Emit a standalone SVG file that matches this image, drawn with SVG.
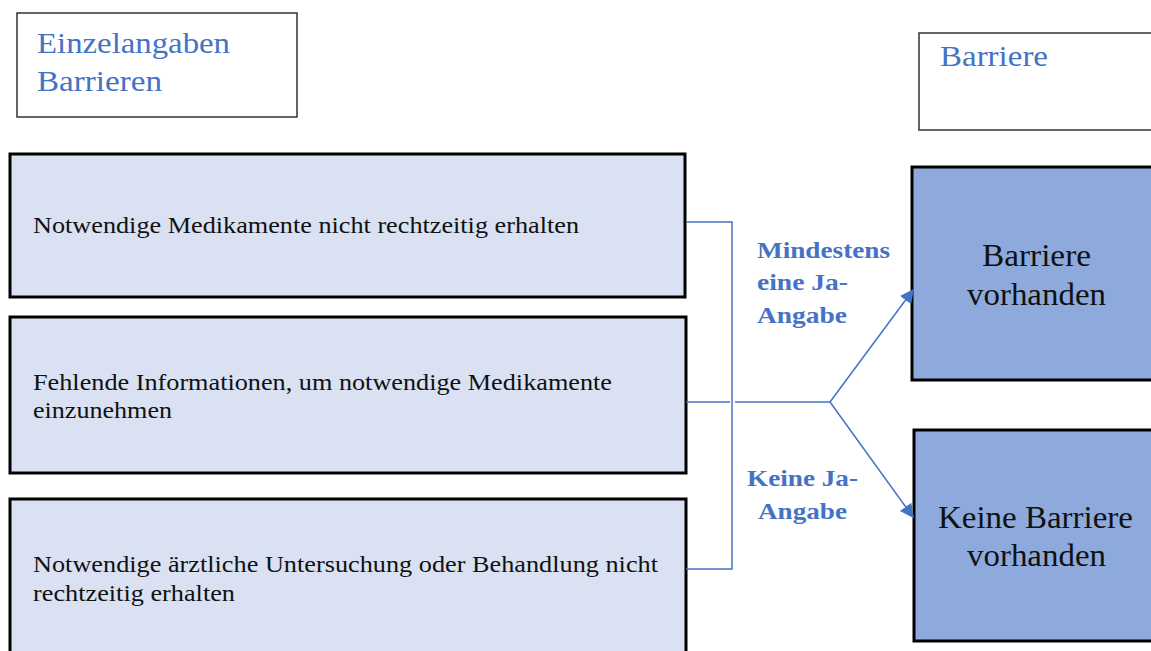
<svg xmlns="http://www.w3.org/2000/svg" width="1151" height="651" viewBox="0 0 1151 651">
  <style>
    .hdr { fill: #ffffff; stroke: #333333; stroke-width: 1.5; }
    .item { fill: #d9e1f3; stroke: #000000; stroke-width: 3; }
    .res { fill: #8eaadc; stroke: #000000; stroke-width: 3; }
    .hdrtxt { font-family: "Liberation Serif", "Times New Roman", serif; font-size: 30px; fill: #4472c4; }
    .itemtxt { font-family: "Liberation Serif", "Times New Roman", serif; font-size: 23px; fill: #111111; }
    .restxt { font-family: "Liberation Serif", "Times New Roman", serif; font-size: 31px; fill: #111111; }
    .lbl { font-family: "Liberation Serif", "Times New Roman", serif; font-size: 24px; font-weight: bold; fill: #4472c4; }
    .conn { fill: none; stroke: #4472c4; stroke-width: 1.5; }
  </style>
  <defs>
    <marker id="arrow" viewBox="0 0 10 10" refX="9" refY="5" markerWidth="14" markerHeight="14" markerUnits="userSpaceOnUse" orient="auto">
      <path d="M0,0 L10,5 L0,10 Z" fill="#4472c4"/>
    </marker>
  </defs>
  <rect width="1151" height="651" fill="#ffffff"/>

  <g id="header-left">
    <rect class="hdr" x="17" y="13" width="280" height="104"/>
    <text class="hdrtxt" x="37" y="53" textLength="193" lengthAdjust="spacingAndGlyphs">Einzelangaben</text>
    <text class="hdrtxt" x="37" y="91" textLength="125" lengthAdjust="spacingAndGlyphs">Barrieren</text>
  </g>

  <g id="header-right">
    <rect class="hdr" x="919" y="33" width="240" height="97"/>
    <text class="hdrtxt" x="940" y="66" textLength="108" lengthAdjust="spacingAndGlyphs">Barriere</text>
  </g>

  <g id="item-medikamente">
    <rect class="item" x="10" y="154" width="675" height="143"/>
    <text class="itemtxt" x="33" y="233" textLength="546" lengthAdjust="spacingAndGlyphs">Notwendige Medikamente nicht rechtzeitig erhalten</text>
  </g>

  <g id="item-informationen">
    <rect class="item" x="10" y="317" width="676" height="156"/>
    <text class="itemtxt" x="33" y="390" textLength="579" lengthAdjust="spacingAndGlyphs">Fehlende Informationen, um notwendige Medikamente</text>
    <text class="itemtxt" x="33" y="418" textLength="139" lengthAdjust="spacingAndGlyphs">einzunehmen</text>
  </g>

  <g id="item-untersuchung">
    <rect class="item" x="10" y="499" width="676" height="160"/>
    <text class="itemtxt" x="33" y="572" textLength="625" lengthAdjust="spacingAndGlyphs">Notwendige ärztliche Untersuchung oder Behandlung nicht</text>
    <text class="itemtxt" x="33" y="601" textLength="202" lengthAdjust="spacingAndGlyphs">rechtzeitig erhalten</text>
  </g>

  <g id="result-barriere">
    <rect class="res" x="912" y="167" width="250" height="213"/>
    <text class="restxt" x="982" y="266" textLength="109" lengthAdjust="spacingAndGlyphs">Barriere</text>
    <text class="restxt" x="967" y="305" textLength="139" lengthAdjust="spacingAndGlyphs">vorhanden</text>
  </g>

  <g id="result-keine">
    <rect class="res" x="914" y="430" width="250" height="211"/>
    <text class="restxt" x="938" y="528" textLength="195" lengthAdjust="spacingAndGlyphs">Keine Barriere</text>
    <text class="restxt" x="967" y="566" textLength="139" lengthAdjust="spacingAndGlyphs">vorhanden</text>
  </g>

  <g id="connectors">
    <path class="conn" d="M686,222 H732 V569 H686"/>
    <path class="conn" d="M686,402 H730 M735,402 H830"/>
    <path class="conn" d="M830,402 L913,290" marker-end="url(#arrow)"/>
    <path class="conn" d="M830,402 L913,517" marker-end="url(#arrow)"/>
    <text class="lbl" x="757" y="258" textLength="133" lengthAdjust="spacingAndGlyphs">Mindestens</text>
    <text class="lbl" x="757" y="290" textLength="91" lengthAdjust="spacingAndGlyphs">eine Ja-</text>
    <text class="lbl" x="757" y="323" textLength="90" lengthAdjust="spacingAndGlyphs">Angabe</text>
    <text class="lbl" x="747" y="486" textLength="111" lengthAdjust="spacingAndGlyphs">Keine Ja-</text>
    <text class="lbl" x="758" y="519" textLength="89" lengthAdjust="spacingAndGlyphs">Angabe</text>
  </g>
</svg>
